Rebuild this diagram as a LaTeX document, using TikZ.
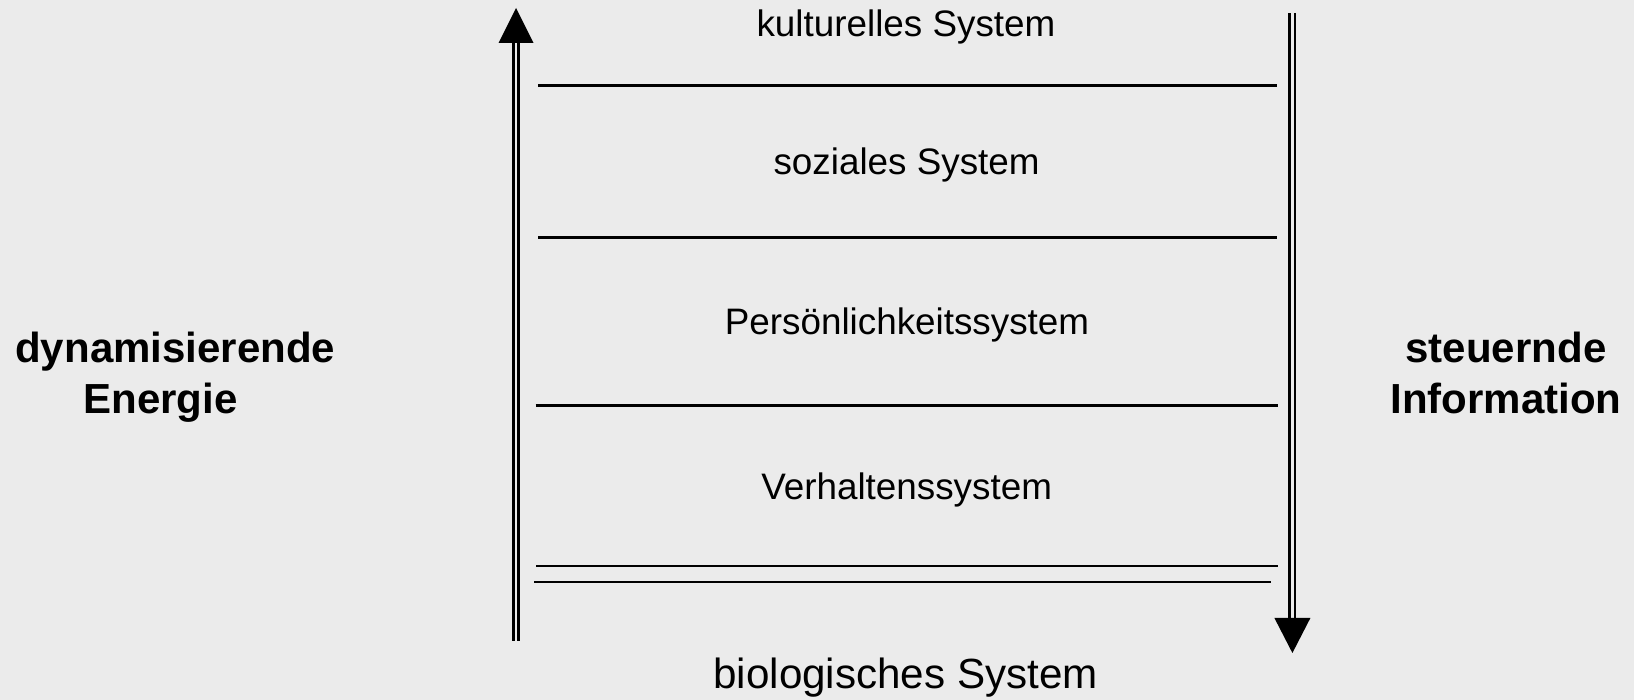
\documentclass[tikz,border=0pt]{standalone}
\usepackage{fontspec}
\setmainfont{Liberation Sans}
\usepackage{tikz}
\usetikzlibrary{positioning}

\definecolor{hintergrund}{HTML}{EBEBEB}

\begin{document}
\begin{tikzpicture}[x=1cm,y=1cm,
  ebene/.style={anchor=base, inner sep=0pt, font=\fontsize{26.2}{31}\selectfont},
  seite/.style={anchor=base, inner sep=0pt, font=\fontsize{29.9}{35.8}\selectfont\bfseries},
  trennlinie/.style={line width=2.1pt},
  schaft/.style={double=hintergrund, double distance=0.067cm, line width=0.067cm}]

\useasboundingbox (0,0) rectangle (40.85,17.5);
\fill [hintergrund] (0,0) rectangle (40.85,17.5);

% Ebenen
\node (kultur) at (22.65,16.575) [ebene] {kulturelles System};
\node (sozial) at (22.665,13.125) [ebene] {soziales System};
\node (person) at (22.675,9.125) [ebene] {Persönlichkeitssystem};
\node (verhalten) at (22.665,5.0) [ebene] {Verhaltenssystem};
\node (bio) at (22.64,0.275) [ebene, font=\fontsize{30}{36}\selectfont] {biologisches System};

\draw [trennlinie] (13.45,15.3625) -- (31.92,15.3625);
\draw [trennlinie] (13.45,11.5625) -- (31.92,11.5625);
\draw [trennlinie] (13.39,7.3625) -- (31.94,7.3625);
\draw [trennlinie] (13.40,3.35) -- (31.94,3.35);
\draw [line width=1.3pt] (13.35,2.95) -- (31.785,2.95);

% Pfeile
\coordinate (lunten) at (12.9,1.475);
\coordinate (lbasis) at (12.9,16.425);
\coordinate (lspitze) at (12.9,17.3);
\coordinate (roben) at (32.31,17.175);
\coordinate (rbasis) at (32.31,2.05);
\coordinate (rspitze) at (32.31,1.175);

\draw [schaft] (lunten) -- (lbasis);
\fill (lspitze) -- ([xshift=-0.4375cm]lbasis) -- ([xshift=0.4375cm]lbasis) -- cycle;

\draw [schaft] (roben) -- (rbasis);
\fill (rspitze) -- ([xshift=-0.45cm]rbasis) -- ([xshift=0.45cm]rbasis) -- cycle;

\node (energie) at (0.375,7.17) [seite, anchor=base west, align=left] {dynamisierende\\\hspace*{1.7cm}Energie};
\node (info) at (37.65,7.17) [seite, align=center] {steuernde\\Information};

\end{tikzpicture}
\end{document}
